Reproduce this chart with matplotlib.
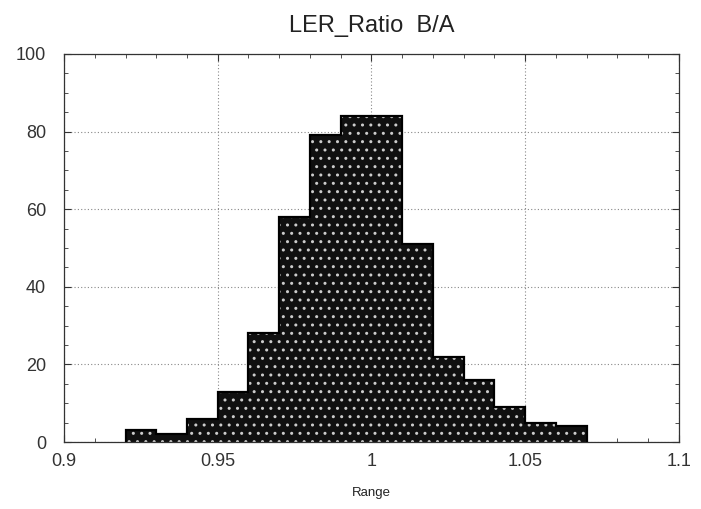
import numpy as np
import matplotlib.pyplot as plt
from matplotlib.ticker import MultipleLocator

plt.rcParams['font.family'] = ['Liberation Sans', 'DejaVu Sans']

# histogram bins (left edges, width 0.01) and counts
bin_edges = [0.92, 0.93, 0.94, 0.95, 0.96, 0.97, 0.98, 0.99, 1.00, 1.01,
             1.02, 1.03, 1.04, 1.05, 1.06, 1.07]
counts = [3, 2, 6, 13, 28, 58, 79, 84, 84, 51, 22, 16, 9, 5, 4]
x_ticks = [0.9, 0.95, 1.0, 1.05, 1.1]
x_tick_labels = ['0.9', '0.95', '1', '1.05', '1.1']
y_ticks = [0, 20, 40, 60, 80, 100]

fig = plt.figure(figsize=(7.01, 5.09), dpi=100)
ax = fig.add_axes([0.0913, 0.1316, 0.8773, 0.7624])

# dotted grid behind the bars
ax.set_axisbelow(True)
ax.grid(True, linestyle=(0, (1, 2)), color='#888888', linewidth=0.8)

lefts = np.array(bin_edges[:-1])
widths = np.diff(bin_edges)
# speckled dark fill (like the halftone scan)
ax.bar(lefts, counts, width=widths, align='edge', color='#101010',
       edgecolor='#cccccc', hatch='..', linewidth=0, zorder=2)
# black outline of the histogram
ax.stairs(counts, bin_edges, color='black', linewidth=1.6, zorder=3)

ax.set_xlim(0.9, 1.1)
ax.set_ylim(0, 100)
ax.set_xticks(x_ticks)
ax.set_xticklabels(x_tick_labels)
ax.set_yticks(y_ticks)
ax.xaxis.set_minor_locator(MultipleLocator(0.01))
ax.yaxis.set_minor_locator(MultipleLocator(5))
ax.tick_params(which='both', direction='in', top=True, right=True,
               labelsize=13, colors='#333333')
ax.tick_params(which='major', length=5, width=0.8)
ax.tick_params(axis='x', which='major', pad=8)
ax.tick_params(axis='y', which='major', pad=13)
ax.tick_params(which='minor', length=3, width=0.6)
for s in ax.spines.values():
    s.set_linewidth(0.9)
    s.set_color('#333333')

ax.set_title('LER_Ratio  B/A', fontsize=17, pad=16, color='#222222')
ax.set_xlabel('Range', fontsize=9.5, labelpad=12, color='#222222')

fig.savefig('out.png', dpi=100)
